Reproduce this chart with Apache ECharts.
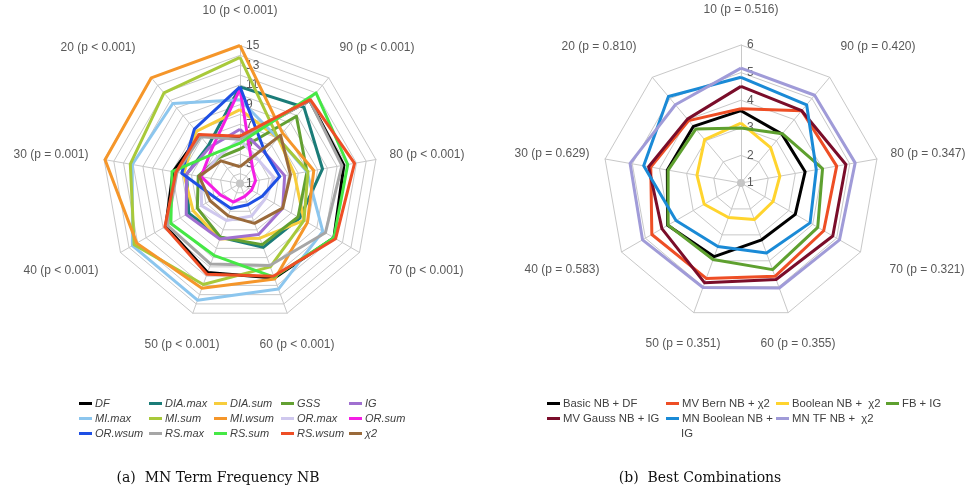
<!DOCTYPE html>
<html><head><meta charset="utf-8">
<script src="https://cdn.jsdelivr.net/npm/echarts@6/dist/echarts.min.js"></script>
<style>html,body{margin:0;padding:0;background:#fff}#c{width:975px;height:494px}</style>
</head><body><div id="c"></div>
<script>
// ---- data (indicator order: 10,20,...,90; drawn counter-clockwise from top) ----
const thresholds = ['10','20','30','40','50','60','70','80','90'];
const pLeft  = ['p < 0.001','p < 0.001','p = 0.001','p < 0.001','p < 0.001','p < 0.001','p < 0.001','p < 0.001','p < 0.001'];
const pRight = ['p = 0.516','p = 0.810','p = 0.629','p = 0.583','p = 0.351','p = 0.355','p = 0.321','p = 0.347','p = 0.420'];

const leftNames = ['DF','DIA.max','DIA.sum','GSS','IG','MI.max','MI.sum','MI.wsum','OR.max','OR.sum','OR.wsum','RS.max','RS.sum','RS.wsum','χ2'];
const DF      = [5.6, 7.4, 7.9, 9.7, 10.6, 11.2, 12.0, 11.7, 12.0];
const DIA_max = [10.8, 6.0, 6.5, 7.0, 6.8, 7.9, 8.0, 9.5, 11.1];
const DIA_sum = [8.5, 7.9, 6.8, 6.5, 7.0, 6.9, 8.5, 6.6, 7.0];
const GSS     = [4.5, 4.4, 5.3, 6.0, 6.8, 7.6, 7.8, 7.9, 9.9];
const IG      = [6.5, 5.8, 6.5, 7.3, 7.0, 6.5, 6.0, 5.6, 5.0];
const MI_max  = [9.5, 11.6, 12.1, 13.6, 13.6, 12.4, 10.7, 7.9, 7.0];
const MI_sum  = [13.8, 13.0, 12.3, 13.4, 11.9, 10.0, 8.5, 8.0, 7.0];
const MI_wsum = [15.0, 15.0, 14.9, 13.1, 12.3, 11.3, 8.9, 8.6, 7.7];
const OR_max  = [5.5, 4.5, 5.0, 5.5, 5.0, 4.5, 4.0, 4.5, 4.0];
const OR_sum  = [10.6, 5.5, 5.0, 3.3, 3.0, 2.4, 2.35, 2.6, 3.0];
const OR_wsum = [10.8, 8.2, 7.0, 3.9, 3.7, 3.3, 3.6, 5.1, 5.0];
const RS_max  = [5.5, 7.2, 7.5, 9.5, 9.7, 9.85, 11.0, 11.5, 12.0];
const RS_sum  = [5.1, 5.0, 8.0, 9.1, 8.75, 11.1, 12.0, 12.1, 13.0];
const RS_wsum = [5.8, 7.5, 7.6, 9.8, 10.8, 11.0, 12.2, 12.8, 12.1];
const CHI2    = [2.7, 4.0, 5.2, 4.5, 4.5, 5.3, 6.0, 6.2, 7.4];
const leftValues = [DF, DIA_max, DIA_sum, GSS, IG, MI_max, MI_sum, MI_wsum, OR_max, OR_sum, OR_wsum, RS_max, RS_sum, RS_wsum, CHI2];

const rightNames = ['Basic NB + DF','MV Bern NB + χ2','Boolean NB +  χ2','FB + IG','MV Gauss NB + IG','MN Boolean NB + IG','MN TF NB +  χ2'];
const basicDF    = [3.62, 3.68, 3.71, 4.07, 3.84, 3.19, 3.27, 3.36, 3.31];
const mvBernChi  = [3.69, 3.95, 4.32, 4.73, 4.68, 4.60, 4.46, 4.52, 4.42];
const boolChi    = [3.17, 3.05, 2.62, 2.54, 2.33, 2.41, 2.34, 2.43, 2.67];
const fbIG       = [2.99, 3.55, 3.68, 4.05, 3.95, 4.34, 4.21, 4.00, 3.33];
const mvGaussIG  = [4.50, 4.02, 4.40, 4.31, 4.85, 4.72, 4.84, 4.86, 4.42];
const mnBoolIG   = [4.83, 5.09, 4.58, 3.72, 3.45, 3.70, 3.89, 3.77, 4.70];
const mnTFChi    = [5.16, 4.70, 5.08, 5.12, 5.03, 5.05, 5.12, 5.20, 5.15];
const rightValues = [basicDF, mvBernChi, boolChi, fbIG, mvGaussIG, mnBoolIG, mnTFChi];

const leftTicks = [1,3,5,7,9,11,13,15];
const rightTicks = [1,2,3,4,5,6];

// ---- styles ----
const leftColors = ['#000000','#1B7C78','#F7CD3C','#63A032','#A070D0','#8CC6EE','#A8C93A','#F5962A','#CFC8EE','#F41EE4','#1E4FE4','#A6A6A6','#45E845','#EE4E25','#9A6A3A'];
const rightColors = ['#000000','#EE4E25','#FFD42E','#5EA02F','#7A0D2A','#1A8AD6','#A09BD8'];
const gridColor = '#C8C8C8';
const textColor = '#595959';
// label offsets from each radar centre (layout only), indicator order 10..90
const nameOffsets = [[0,-173],[-142,-136],[-189,-29],[-179,87],[-58,161],[57,161],[186,87],[187,-29],[137,-136]];
const L = {cx:240, cy:183.5, r:138};
const R = {cx:741, cy:183, r:138};

function indicators(min, max, ticks) {
  return thresholds.map((t, i) => {
    const o = {name: t, min: min, max: max};
    o.axisLabel = i === 0 ? {
      show: true, color: textColor, fontSize: 12, fontFamily: 'Liberation Sans', margin: -6, align: 'left',
      formatter: v => (ticks.indexOf(Math.round(v*1000)/1000) >= 0 ? String(Math.round(v)) : '')
    } : {show: false};
    return o;
  });
}
function radarCfg(c, min, max, split, ticks) {
  return {
    center: [c.cx, c.cy], radius: c.r, startAngle: 90, splitNumber: split, shape: 'polygon',
    indicator: indicators(min, max, ticks),
    axisName: {show: false},
    splitLine: {lineStyle: {color: gridColor, width: 1}},
    splitArea: {show: false},
    axisLine: {lineStyle: {color: gridColor, width: 1}},
    axisTick: {show: false},
    axisLabel: {show: false}
  };
}

const series = [];
leftNames.forEach((n, i) => series.push({
  type: 'radar', radarIndex: 0, name: n, symbol: 'none', silent: true,
  lineStyle: {color: leftColors[i], width: 3}, itemStyle: {color: leftColors[i]},
  data: [{name: n, value: leftValues[i]}]
}));
rightNames.forEach((n, i) => series.push({
  type: 'radar', radarIndex: 1, name: n, symbol: 'none', silent: true,
  lineStyle: {color: rightColors[i], width: 3}, itemStyle: {color: rightColors[i]},
  data: [{name: n, value: rightValues[i]}]
}));

const graphics = [];
function addNames(c, pv) {
  thresholds.forEach((t, i) => graphics.push({
    type: 'text', x: c.cx + nameOffsets[i][0], y: c.cy + nameOffsets[i][1], silent: true,
    style: {text: t + ' (' + pv[i] + ')', font: '12px "Liberation Sans", Arial', fill: textColor,
      textAlign: 'center', textVerticalAlign: 'middle'}
  }));
  graphics.push({type: 'circle', shape: {cx: c.cx, cy: c.cy, r: 4}, style: {fill: '#C4C4C4'}, silent: true, z: -1});
}
addNames(L, pLeft); addNames(R, pRight);
graphics.push({type:'text', x: 218, y: 478, style:{text:'(a)  MN Term Frequency NB', font:'14px "DejaVu Serif", serif', fill:'#111', textAlign:'center', textVerticalAlign:'middle'}});
graphics.push({type:'text', x: 700, y: 478, style:{text:'(b)  Best Combinations', font:'14px "DejaVu Serif", serif', fill:'#111', textAlign:'center', textVerticalAlign:'middle'}});
graphics.push({type:'text', x: 681, y: 434, style:{text:'IG', font:'11.3px "Liberation Sans", Arial', fill:'#404040', textAlign:'left', textVerticalAlign:'middle'}});

const legendBase = {orient: 'vertical', icon: 'rect', itemWidth: 13, itemHeight: 3, itemGap: 0, padding: 0,
  selectedMode: false, top: 396};
const legends = [];
const leftCols = [79, 149, 214, 281, 349];
leftCols.forEach((x, c) => legends.push(Object.assign({}, legendBase, {
  left: x, data: [leftNames[c], leftNames[c+5], leftNames[c+10]],
  textStyle: {fontStyle: 'italic', fontSize: 11, color: '#404040', fontFamily: 'Liberation Sans', lineHeight: 15, padding: [0,0,0,-2]}
})));
const rightCols = [[547, [0,4]], [666, [1,5]], [776, [2,6]], [886, [3]]];
rightCols.forEach(([x, idx]) => legends.push(Object.assign({}, legendBase, {
  left: x, data: idx.map(k => rightNames[k]),
  formatter: n => n === 'MN Boolean NB + IG' ? 'MN Boolean NB +' : n,
  textStyle: {fontSize: 11.3, color: '#404040', fontFamily: 'Liberation Sans', lineHeight: 15, padding: [0,0,0,-2]}
})));

const chart = echarts.init(document.getElementById('c'), null, {renderer: 'canvas'});
chart.setOption({
  animation: false,
  backgroundColor: '#fff',
  radar: [radarCfg(L, 1, 15, 14, leftTicks), radarCfg(R, 1, 6, 5, rightTicks)],
  legend: legends,
  graphic: graphics,
  series: series
});
</script></body></html>
